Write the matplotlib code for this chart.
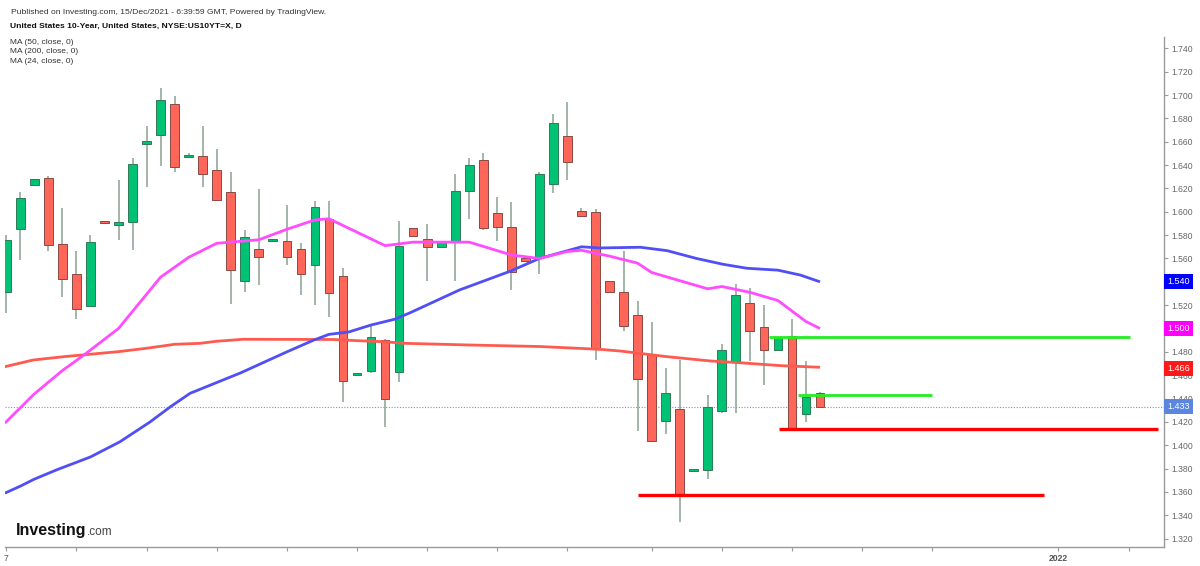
import numpy as np
import matplotlib
matplotlib.use('Agg')
import matplotlib.pyplot as plt
from matplotlib.transforms import blended_transform_factory

plt.rcParams['font.family'] = ['Liberation Sans', 'DejaVu Sans']

# daily candles, oldest first (last one is 15/Dec/2021)
opens = [1.531, 1.585, 1.623, 1.629, 1.572, 1.547, 1.519, 1.591, 1.589, 1.591,
         1.658, 1.6655, 1.692, 1.647, 1.648, 1.636, 1.617, 1.541, 1.568, 1.575,
         1.575, 1.568, 1.554, 1.5935, 1.545, 1.460, 1.464, 1.490, 1.463, 1.586,
         1.577, 1.570, 1.575, 1.618, 1.644, 1.599, 1.587, 1.560, 1.561, 1.624,
         1.665, 1.601, 1.600, 1.541, 1.531, 1.5116, 1.477, 1.421, 1.431, 1.378,
         1.379, 1.429, 1.4724, 1.5216, 1.501, 1.482, 1.494, 1.4265, 1.445]
highs = [1.580, 1.617, 1.628, 1.631, 1.603, 1.566, 1.580, 1.591, 1.627, 1.646,
         1.6735, 1.706, 1.699, 1.650, 1.6735, 1.654, 1.634, 1.584, 1.6195, 1.577,
         1.6055, 1.5735, 1.6095, 1.6095, 1.552, 1.462, 1.504, 1.491, 1.592, 1.586,
         1.5895, 1.574, 1.632, 1.646, 1.650, 1.613, 1.608, 1.560, 1.634, 1.684,
         1.694, 1.603, 1.602, 1.541, 1.566, 1.524, 1.506, 1.466, 1.473, 1.380,
         1.443, 1.487, 1.538, 1.535, 1.520, 1.4925, 1.508, 1.4724, 1.446]
lows = [1.513, 1.559, 1.623, 1.566, 1.527, 1.508, 1.519, 1.590, 1.576, 1.567,
        1.621, 1.639, 1.634, 1.647, 1.621, 1.610, 1.521, 1.531, 1.537, 1.574,
        1.554, 1.5285, 1.520, 1.510, 1.437, 1.460, 1.462, 1.416, 1.4545, 1.579,
        1.541, 1.570, 1.541, 1.594, 1.584, 1.575, 1.533, 1.558, 1.547, 1.616,
        1.627, 1.5964, 1.473, 1.531, 1.498, 1.4125, 1.4026, 1.410, 1.334, 1.378,
        1.371, 1.428, 1.428, 1.4724, 1.4516, 1.482, 1.413, 1.4197, 1.432]
closes = [1.576, 1.612, 1.628, 1.5715, 1.542, 1.5165, 1.574, 1.590, 1.591, 1.641,
          1.661, 1.696, 1.638, 1.649, 1.632, 1.610, 1.550, 1.578, 1.561, 1.577,
          1.561, 1.547, 1.604, 1.530, 1.455, 1.462, 1.493, 1.4396, 1.571, 1.579,
          1.570, 1.574, 1.618, 1.640, 1.586, 1.587, 1.548, 1.558, 1.632, 1.676,
          1.643, 1.5964, 1.483, 1.531, 1.502, 1.4565, 1.404, 1.4445, 1.357, 1.380,
          1.4325, 1.482, 1.5285, 1.498, 1.482, 1.4925, 1.414, 1.4416, 1.433]

# moving averages (candle index, value)
ma24_idx = [-0.1, 2, 4, 5.5, 8, 11, 13, 15, 18, 20, 22, 23, 27, 29, 33, 36, 38, 40,
            41, 43, 45, 46, 48, 50, 51, 53, 55, 56, 57, 58]
ma24_val = [1.419, 1.444, 1.464, 1.477, 1.500, 1.544, 1.561, 1.573, 1.576, 1.585,
            1.593, 1.594, 1.571, 1.574, 1.574, 1.563, 1.560, 1.566, 1.567, 1.562,
            1.556, 1.548, 1.541, 1.534, 1.536, 1.531, 1.524, 1.515, 1.506, 1.500]
ma50_idx = [-0.1, 1, 2, 3.6, 6, 8.1, 10.25, 11.7, 13.1, 16.7, 20, 21.9, 23, 24.4,
            26, 27.7, 28.8, 32.3, 35.9, 38, 41, 42.3, 45.2, 47.1, 49.2, 51.1, 52.8,
            55, 56.6, 58]
ma50_val = [1.359, 1.365, 1.371, 1.379, 1.390, 1.403, 1.420, 1.433, 1.4445, 1.462,
            1.480, 1.490, 1.495, 1.497, 1.503, 1.508, 1.5136, 1.533, 1.549, 1.560,
            1.570, 1.569, 1.5696, 1.5667, 1.560, 1.555, 1.5516, 1.550, 1.5458, 1.540]
ma200_idx = [-0.1, 1.9, 4.1, 8, 10, 12, 13.8, 15, 16.9, 23.3, 25, 26.9, 28.5, 33,
             38, 42.3, 43.8, 47.1, 50.2, 52.3, 55.2, 58]
ma200_val = [1.4673, 1.473, 1.4759, 1.4802, 1.4831, 1.4865, 1.4873, 1.4891, 1.4908,
             1.4906, 1.4896, 1.4887, 1.4873, 1.4859, 1.4846, 1.4822, 1.4807, 1.4759,
             1.4722, 1.4707, 1.4682, 1.4668]

# drawn support / resistance lines: (start idx, end idx, level)
green_lines = [(54.4, 80.1, 1.493), (56.4, 66.0, 1.443)]
red_lines = [(55.1, 82.1, 1.4137), (45.0, 74.0, 1.357)]

last_price = 1.433
price_tags = [(1.540, '1.540', '#0000ff'), (1.500, '1.500', '#ff00ff'),
              (1.466, '1.466', '#ff1a1a'), (1.433, '1.433', '#5a86e0')]

ytick_vals = np.round(np.arange(1.32, 1.7401, 0.02), 3)
xtick_pos = [0, 5, 10, 15, 20, 25, 30, 35, 40, 46, 51, 56, 61, 66, 75, 80]
xtick_lab = ['7'] + [''] * 13 + ['2022', '']

fig = plt.figure(figsize=(12, 5.66), dpi=100)
ax = fig.add_axes([5 / 1200, 18.7 / 566, 1159 / 1200, 510.3 / 566])

n = len(closes)
x = np.arange(n)
o = np.array(opens)
c = np.array(closes)
up = c >= o
body_lo = np.minimum(o, c)
body_h = np.maximum(np.abs(c - o), 0.0018)

ax.vlines(x, lows, highs, color='#8aa092', lw=1.1, zorder=2)
ax.bar(x[up], body_h[up], bottom=body_lo[up], width=0.62, color='#00c274',
       edgecolor='#2f7a55', linewidth=0.7, zorder=3)
ax.bar(x[~up], body_h[~up], bottom=body_lo[~up], width=0.62, color='#ff665a',
       edgecolor='#8a4a44', linewidth=0.7, zorder=3)

ax.plot(ma200_idx, ma200_val, color='#ff5a50', lw=2.0, zorder=4, solid_capstyle='butt')
ax.plot(ma50_idx, ma50_val, color='#4f4ff5', lw=2.0, zorder=4, solid_capstyle='butt')
ax.plot(ma24_idx, ma24_val, color='#ff4cff', lw=2.0, zorder=4, solid_capstyle='butt')

for s, e, lvl in green_lines:
    ax.plot([s, e], [lvl, lvl], color='#22ee22', lw=2.0, zorder=5, solid_capstyle='butt')
for s, e, lvl in red_lines:
    ax.plot([s, e], [lvl, lvl], color='#ff0000', lw=2.4, zorder=5, solid_capstyle='butt')

ax.axhline(last_price, color='#6f8ff5', lw=0.8, ls=(0, (1, 1.5)), zorder=1)

ax.set_xlim(-0.09, 82.52)
ax.set_ylim(1.31263, 1.74968)

for sp in ['top', 'left']:
    ax.spines[sp].set_visible(False)
for sp in ['right', 'bottom']:
    ax.spines[sp].set_color('#9a9a9a')
    ax.spines[sp].set_linewidth(1.0)

# tick labels hidden where a price tag shows the same value on top
tag_vals = [round(v, 3) for v, _, _ in price_tags]
ax.yaxis.tick_right()
ax.set_yticks(ytick_vals)
ax.set_yticklabels(['' if round(v, 3) in tag_vals else '%.3f' % v for v in ytick_vals])
ax.tick_params(axis='y', direction='out', length=3, width=0.8, color='#9a9a9a',
               labelsize=6.2, labelcolor='#666666', pad=2)
ax.set_xticks(xtick_pos)
ax.set_xticklabels(xtick_lab)
ax.tick_params(axis='x', direction='out', length=3, width=0.8, color='#9a9a9a',
               labelsize=6.2, labelcolor='#555555', pad=2)
for lab in ax.get_xticklabels():
    if lab.get_text() == '2022':
        lab.set_fontweight('bold')

tr = blended_transform_factory(ax.transAxes, ax.transData)
for val, txt, col in price_tags:
    ax.text(1.0025, val, txt, transform=tr, ha='left', va='center', fontsize=6.5,
            color='white', zorder=10, clip_on=False,
            bbox=dict(boxstyle='square,pad=0.35', fc=col, ec='none'))

fig.text(11 / 1200, 1 - 12 / 566, 'Published on Investing.com, 15/Dec/2021 - 6:39:59 GMT, Powered by TradingView.',
         fontsize=6.1, color='#333333', va='center', ha='left')
fig.text(10 / 1200, 1 - 26 / 566, 'United States 10-Year, United States, NYSE:US10YT=X, D',
         fontsize=6.1, color='#111111', va='center', ha='left', fontweight='bold')
for k, t in enumerate(['MA (50, close, 0)', 'MA (200, close, 0)', 'MA (24, close, 0)']):
    fig.text(10 / 1200, 1 - (42 + 9.7 * k) / 566, t, fontsize=6.0, color='#333333',
             va='center', ha='left')

logo = fig.text(16 / 1200, 1 - 535 / 566, 'Investing', fontsize=11.5, fontweight='bold',
                color='#111111', va='baseline', ha='left')
ax.annotate('.com', xy=(1.0, 0.0), xycoords=logo, xytext=(0.5, 0), textcoords='offset points',
            fontsize=8.5, color='#444444', va='bottom', ha='left', annotation_clip=False)

fig.savefig('out.png', dpi=100)
